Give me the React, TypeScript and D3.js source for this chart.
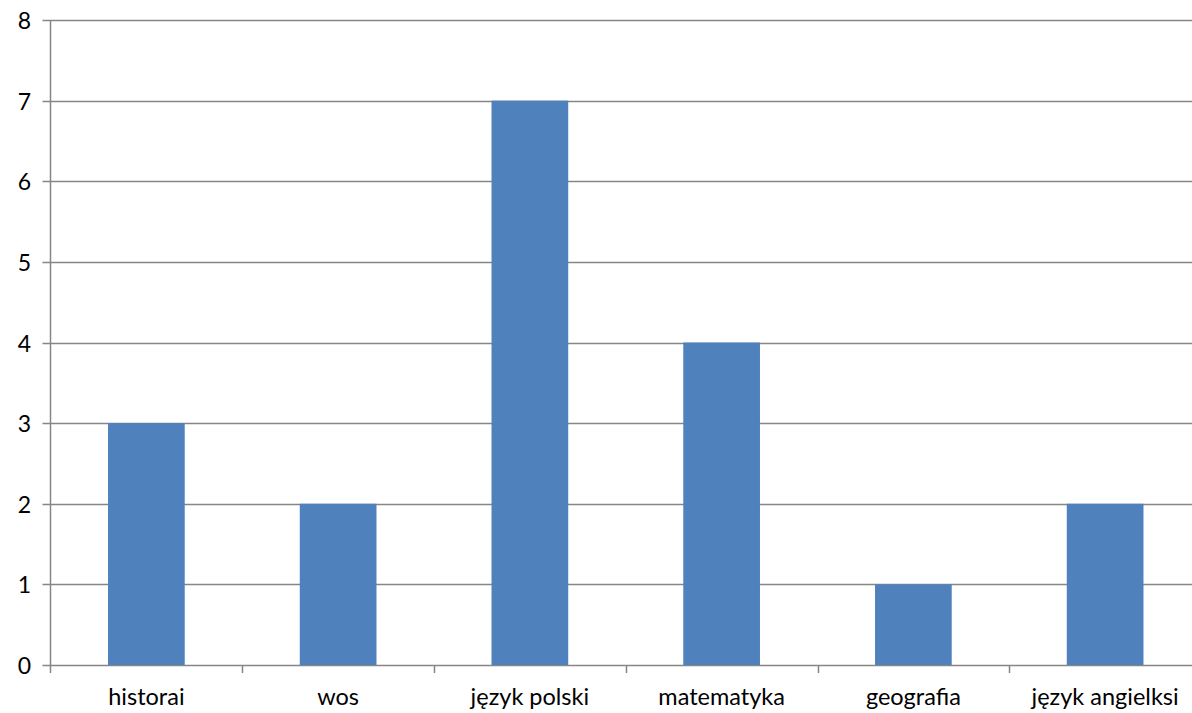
import { useEffect, useRef } from "react";
import * as d3 from "d3";

const categories = ["historai", "wos", "język polski", "matematyka", "geografia", "język angielksi"];
const values = [3, 2, 7, 4, 1, 2];
const yTicks = [0, 1, 2, 3, 4, 5, 6, 7, 8];

export default function App() {
  const ref = useRef<SVGSVGElement | null>(null);

  useEffect(() => {
    if (!ref.current) return;
    const svg = d3.select(ref.current);
    svg.selectAll("*").remove();

    const left = 50.5;
    const right = 1201;
    const top = 20;
    const bottom = 665;
    const font = "Lato, 'Open Sans', sans-serif";
    const gridColor = "#868686";

    const x = d3.scaleBand<string>().domain(categories).range([left, right]).paddingInner(0.6).paddingOuter(0.3);
    const xEdge = d3.scaleLinear().domain([0, categories.length]).range([left, right]);
    const y = d3.scaleLinear().domain([0, 8]).range([bottom, top]);

    const g = svg.append("g");

    // gridlines + y ticks
    yTicks.forEach((t) => {
      const yy = Math.round(y(t)) + 0.5;
      g.append("line")
        .attr("x1", left - 8)
        .attr("x2", right)
        .attr("y1", yy)
        .attr("y2", yy)
        .attr("stroke", gridColor)
        .attr("stroke-width", 1.5);
      g.append("text")
        .attr("x", 31)
        .attr("y", yy)
        .attr("dy", "0.35em")
        .attr("text-anchor", "end")
        .attr("font-family", font)
        .attr("font-size", 23)
        .attr("fill", "#000")
        .text(String(t));
    });

    // bars
    g.selectAll("rect.bar")
      .data(values)
      .enter()
      .append("rect")
      .attr("class", "bar")
      .attr("x", (_, i) => x(categories[i]) ?? 0)
      .attr("width", x.bandwidth())
      .attr("y", (d) => y(d))
      .attr("height", (d) => y(0) - y(d))
      .attr("fill", "#4F81BD");

    // y axis
    g.append("line")
      .attr("x1", left)
      .attr("x2", left)
      .attr("y1", top)
      .attr("y2", bottom + 8)
      .attr("stroke", gridColor)
      .attr("stroke-width", 1.5);

    // category ticks
    d3.range(1, categories.length + 1).forEach((i) => {
      const xx = Math.round(xEdge(i)) + 0.5;
      g.append("line")
        .attr("x1", xx)
        .attr("x2", xx)
        .attr("y1", bottom)
        .attr("y2", bottom + 8)
        .attr("stroke", gridColor)
        .attr("stroke-width", 1.5);
    });

    // category labels
    categories.forEach((c) => {
      g.append("text")
        .attr("x", (x(c) ?? 0) + x.bandwidth() / 2)
        .attr("y", 705)
        .attr("text-anchor", "middle")
        .attr("font-family", font)
        .attr("font-size", 23.5)
        .attr("fill", "#000")
        .text(c);
    });
  }, []);

  return (
    <svg
      ref={ref}
      width={1192}
      height={713}
      style={{ position: "absolute", left: 0, top: 0, background: "#fff" }}
    />
  );
}
